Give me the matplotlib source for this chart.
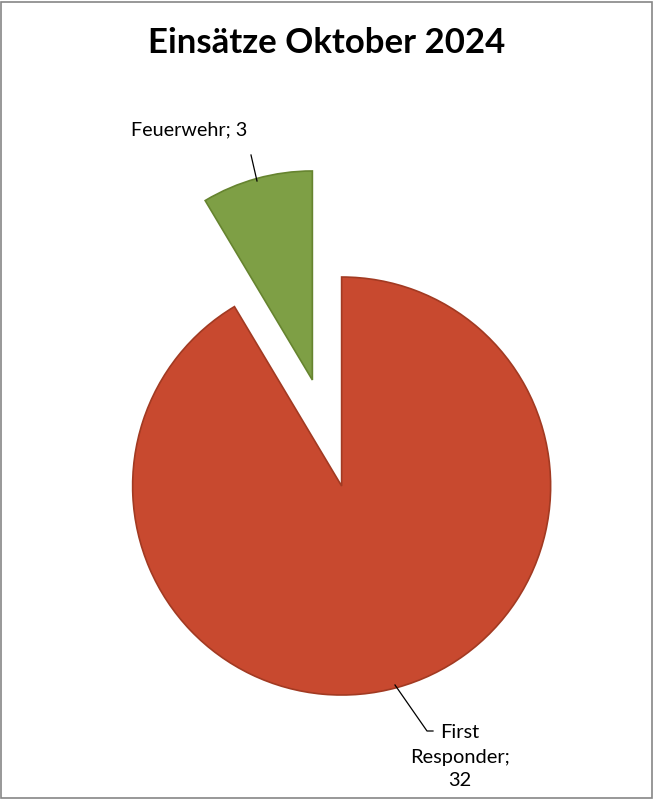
import matplotlib
matplotlib.use('Agg')
import matplotlib.pyplot as plt
from matplotlib.patches import Rectangle

# Daten
kategorien = ['Feuerwehr', 'First Responder']
einsaetze = [3, 32]
farben = ['#7E9F45', '#C8492F']
kanten = ['#66842F', '#A23A22']

titel = 'Einsätze Oktober 2024'

W, H = 654, 800
fig = plt.figure(figsize=(W / 100, H / 100), dpi=100)
ax = fig.add_axes([0, 0, 1, 1])

# Pixel-Koordinaten (y nach oben)
mitte = (327, H - 433)
radius = 209
versatz = [55, 55]

wedges, _ = ax.pie(einsaetze, colors=farben, startangle=90, counterclock=True,
                   radius=radius, center=mitte, explode=versatz,
                   wedgeprops=dict(linewidth=1.2))
for w, k in zip(wedges, kanten):
    w.set_edgecolor(k)

ax.set_xlim(0, W)
ax.set_ylim(0, H)
ax.axis('off')

# Titel
fig.text(0.5, 1 - 43 / H, titel, ha='center', va='center',
         fontsize=25, fontweight='bold', family='Lato')

# Beschriftungen mit Führungslinien
ax.plot([251, 257], [H - 155, H - 181], color='black', lw=0.9)
ax.text(189, H - 130, f'{kategorien[0]}; {einsaetze[0]}', ha='center', va='center',
        fontsize=14.2, family='Lato')

ax.plot([395, 427, 433], [H - 685, H - 731, H - 731], color='black', lw=0.9)
ax.text(460, H - 757, 'First\nResponder;\n' + str(einsaetze[1]), ha='center', va='center',
        fontsize=14.4, family='Lato', linespacing=1.5)

# Rahmen
fig.patches.append(Rectangle((0.002, 0.002), 0.995, 0.995, transform=fig.transFigure,
                             fill=False, edgecolor='#868686', linewidth=1.2))

fig.savefig('out.png', dpi=100, facecolor='white')
